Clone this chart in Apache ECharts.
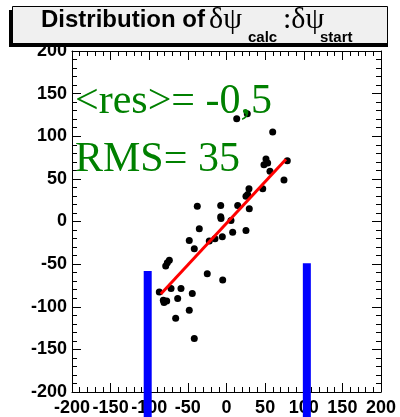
<!DOCTYPE html>
<html><head><meta charset="utf-8">
<script src="https://cdn.jsdelivr.net/npm/echarts@6/dist/echarts.min.js"></script>
<style>html,body{margin:0;padding:0;background:#fff;overflow:hidden}#c{width:400px;height:417px}</style>
</head><body><div id="c"></div>
<script>
// ---- data ----
const pointsX = [13.2, 26.9, 59.8, 51.1, 53.3, 48.5, 78.7, 56.3, 74.4, 46.9, 29.1, 27.4, 25.2, -37.8, -7.5, 14.5, 29.5, -7.5, -7.1, 5.8, -35.2, 8.0, 25.2, -5.4, -14.9, -22.3, -48.2, -41.7, -74.0, -76.6, -78.7, -24.9, -4.9, -71.8, -58.9, -87.0, -44.3, -81.8, -77.4, -80.9, -63.2, -48.2, -65.8, -41.7];
const pointsY = [120.5, 126.3, 104.9, 73.3, 68.7, 66.7, 71.3, 58.8, 48.8, 38.3, 38.3, 31.6, 29.6, 17.9, 18.7, 18.7, 14.9, 5.5, 3.5, 1.2, -8.5, -12.5, -10.5, -17.9, -20.2, -23.0, -22.2, -31.9, -45.6, -48.3, -52.3, -61.2, -68.7, -78.7, -78.7, -82.7, -84.6, -92.4, -93.2, -95.1, -90.4, -104.1, -113.5, -137.2];
const fitX = [-85, 77];
const fitY = [-85, 73];
const markerX = [-102, 104];
const markerTop = [-58, -49];
const markerBottom = [-240, -240];
const axisMin = -200, axisMax = 200, axisStep = 50;
const titleParts = ['Distribution of ', 'δψ', 'calc', ':δψ', 'start'];
const statLines = ['<res>= -0,5', 'RMS= 35'];

// ---- chart ----
const chart = echarts.init(document.getElementById('c'), null, {renderer: 'canvas'});
const lblFont = {color: '#000', fontFamily: 'Liberation Sans', fontWeight: 'bold', fontSize: 18};
function mkAxis(pos, showLabel, isX) {
  return {
    type: 'value', min: axisMin, max: axisMax, interval: axisStep, position: pos,
    axisLine: {show: true, onZero: false, lineStyle: {color: '#000', width: 1}},
    axisTick: {show: true, inside: true, length: 9, lineStyle: {color: '#000', width: 1}},
    minorTick: {show: true, splitNumber: 5, length: 5, lineStyle: {color: '#000', width: 1}},
    splitLine: {show: false},
    axisLabel: Object.assign({show: showLabel, showMinLabel: true, showMaxLabel: true, margin: isX ? 7 : 5}, lblFont)
  };
}
const scatterData = pointsX.map((x, i) => [x, pointsY[i]]);
const series = [
  {type: 'scatter', data: scatterData, symbol: 'circle', symbolSize: 7, itemStyle: {color: '#000', opacity: 1}, z: 3, silent: true},
  {type: 'line', data: fitX.map((x, i) => [x, fitY[i]]), symbol: 'none', lineStyle: {color: '#ff0000', width: 3}, z: 4, silent: true}
];
markerX.forEach((x, i) => {
  series.push({type: 'line', clip: false, data: [[x, markerTop[i]], [x, markerBottom[i]]], symbol: 'none',
    lineStyle: {color: '#0000ff', width: 8, cap: 'butt'}, z: 20, zlevel: 1, silent: true});
});
const titleY = 20, subY = 38;
chart.setOption({
  animation: false,
  backgroundColor: '#fff',
  grid: {left: 72, right: 19, top: 51, bottom: 24},
  xAxis: [mkAxis('bottom', true, true), mkAxis('top', false, true)],
  yAxis: [mkAxis('left', true, false), mkAxis('right', false, false)],
  series: series,
  graphic: [
    {type: 'rect', shape: {x: 9, y: 10, width: 5, height: 37}, style: {fill: '#000'}, z: 100},
    {type: 'rect', shape: {x: 12.5, y: 6.5, width: 375, height: 38}, style: {fill: '#f0f0f0', stroke: '#000', lineWidth: 1}, z: 101},
    {type: 'rect', shape: {x: 9, y: 43, width: 379, height: 4}, style: {fill: '#000'}, z: 102},
    {type: 'text', x: 41, y: titleY, style: {text: titleParts[0], font: 'bold 24px "Liberation Sans"', fill: '#000', verticalAlign: 'middle'}, z: 103},
    {type: 'text', x: 209, y: titleY, style: {text: titleParts[1], font: '30px "Liberation Serif"', fill: '#000', verticalAlign: 'middle'}, z: 103},
    {type: 'text', x: 248, y: subY, style: {text: titleParts[2], font: 'bold 15px "Liberation Sans"', fill: '#000', verticalAlign: 'middle'}, z: 103},
    {type: 'text', x: 283, y: titleY, style: {text: titleParts[3], font: '30px "Liberation Serif"', fill: '#000', verticalAlign: 'middle'}, z: 103},
    {type: 'text', x: 320, y: subY, style: {text: titleParts[4], font: 'bold 15px "Liberation Sans"', fill: '#000', verticalAlign: 'middle'}, z: 103},
    {type: 'text', x: 75, y: 102, style: {text: statLines[0], font: '42px "Liberation Serif"', fill: '#008000', verticalAlign: 'middle'}, z: 50},
    {type: 'text', x: 75, y: 160, style: {text: statLines[1], font: '42px "Liberation Serif"', fill: '#008000', verticalAlign: 'middle'}, z: 50}
  ]
});
</script>
</body></html>
